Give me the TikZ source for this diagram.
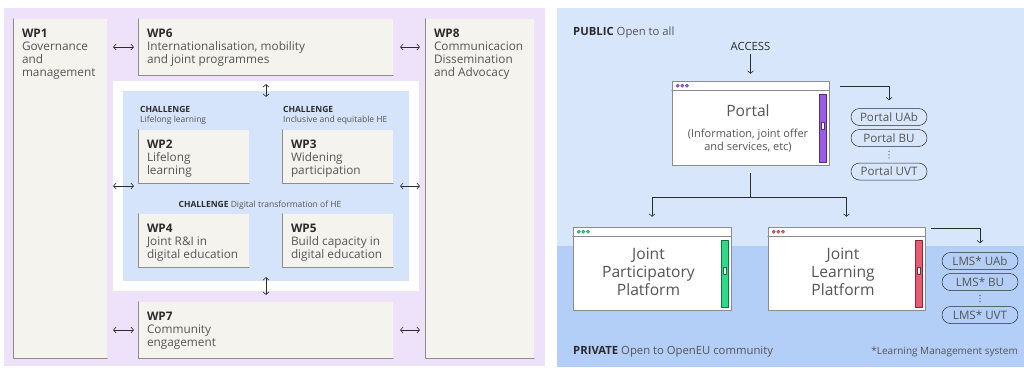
\documentclass[tikz,border=0pt]{standalone}
\usepackage{fontspec}
\setmainfont{Open Sans}
\usetikzlibrary{arrows.meta,calc}

\definecolor{lavender}{HTML}{EEE2FB}
\definecolor{beige}{HTML}{F4F3EE}
\definecolor{challblue}{HTML}{D5E4FB}
\definecolor{pubblue}{HTML}{D7E6FB}
\definecolor{privblue}{HTML}{B3CEF7}
\definecolor{edgegray}{HTML}{8C8C8C}
\definecolor{inkc}{HTML}{2B2B2B}
\definecolor{bodyc}{HTML}{555555}
\definecolor{portalc}{HTML}{9D5CE6}
\definecolor{jppc}{HTML}{2FDB86}
\definecolor{jlpc}{HTML}{EC5A72}

\tikzset{
  panel/.style={draw=none, inner sep=0pt},
  wpbox/.style={panel, fill=beige},
  wptext/.style={anchor=north west, align=left, inner sep=0pt, text=bodyc,
    font=\fontsize{11.8}{13}\selectfont},
  chaltext/.style={anchor=base west, inner sep=0pt, text=bodyc,
    font=\fontsize{8.5}{9}\selectfont},
  conn/.style={draw=inkc, line width=0.6pt},
  window/.style={draw=edgegray, fill=white, line width=0.6pt, inner sep=0pt},
  wintext/.style={align=center, inner sep=0pt, text=bodyc,
    font=\fontsize{15.6}{18}\selectfont},
  pill/.style={draw=inkc, line width=0.5pt, rounded corners=8.5pt, minimum width=76pt,
    minimum height=17pt, inner sep=0pt, text=bodyc, font=\fontsize{11.6}{12}\selectfont},
}

\begin{document}
\begin{tikzpicture}[x=1pt, y=-1pt, line cap=round, line join=round,
  >={Straight Barb[length=2.5pt,width=6pt]}]
\useasboundingbox (0,0) rectangle (1024,367);

% left panel: work packages
\node[panel, fill=lavender, minimum width=541pt, minimum height=358pt] (left) at (274.5,187) {};
\node[panel, fill=white, minimum width=306pt, minimum height=210pt] (frame) at (266,186) {};
\node[panel, fill=challblue, minimum width=286pt, minimum height=190pt] (blue) at (266,186) {};

\node[wpbox, minimum width=93pt, minimum height=339pt] (wp1) at (60.5,188.5) {};
\node[wpbox, minimum width=254pt, minimum height=56pt] (wp6) at (266,47) {};
\node[wpbox, minimum width=108pt, minimum height=339pt] (wp8) at (480,188.5) {};
\node[wpbox, minimum width=110pt, minimum height=53pt] (wp2) at (194,156.5) {};
\node[wpbox, minimum width=110pt, minimum height=53pt] (wp3) at (338,156.5) {};
\node[wpbox, minimum width=110pt, minimum height=53pt] (wp4) at (194,240.5) {};
\node[wpbox, minimum width=110pt, minimum height=53pt] (wp5) at (338,240.5) {};
\node[wpbox, minimum width=254pt, minimum height=56pt] (wp7) at (266,330) {};

\foreach \n in {wp1,wp2,wp3,wp4,wp5,wp6,wp7,wp8}
  \draw[edgegray, line width=0.7pt] (\n.north west) -- (\n.south west) -- (\n.south east);

\node[wptext] (wp1t) at ([shift={(8,10)}]wp1.north west) {\textbf{\color{inkc}WP1}\\Governance\\and\\management};
\node[wptext] (wp6t) at ([shift={(8,10)}]wp6.north west) {\textbf{\color{inkc}WP6}\\Internationalisation, mobility\\and joint programmes};
\node[wptext] (wp8t) at ([shift={(8,10)}]wp8.north west) {\textbf{\color{inkc}WP8}\\Communicacion\\Dissemination\\and Advocacy};
\node[wptext] (wp2t) at ([shift={(8,10)}]wp2.north west) {\textbf{\color{inkc}WP2}\\Lifelong\\learning};
\node[wptext] (wp3t) at ([shift={(8,10)}]wp3.north west) {\textbf{\color{inkc}WP3}\\Widening\\participation};
\node[wptext] (wp4t) at ([shift={(8,10)}]wp4.north west) {\textbf{\color{inkc}WP4}\\Joint R\&I in\\digital education};
\node[wptext] (wp5t) at ([shift={(8,10)}]wp5.north west) {\textbf{\color{inkc}WP5}\\Build capacity in\\digital education};
\node[wptext] (wp7t) at ([shift={(8,10)}]wp7.north west) {\textbf{\color{inkc}WP7}\\Community\\engagement};

\node[chaltext, text=inkc, font=\fontsize{8.5}{9}\selectfont\bfseries] (ch2) at (140,112) {CHALLENGE};
\node[chaltext] (ch2s) at (140,122) {Lifelong learning};
\node[chaltext, text=inkc, font=\fontsize{8.5}{9}\selectfont\bfseries] (ch3) at (283,112) {CHALLENGE};
\node[chaltext] (ch3s) at (283,122) {Inclusive and equitable HE};
\node[chaltext, anchor=base] (ch45) at (260,207) {\textbf{\color{inkc}CHALLENGE} Digital transformation of HE};

\draw[conn, <->, shorten <=6pt, shorten >=5pt] (wp1.east |- wp6.west) -- (wp6.west);
\draw[conn, <->, shorten <=7pt, shorten >=6pt] (wp6.east) -- (wp8.west |- wp6.east);
\draw[conn, <->, shorten <=6pt, shorten >=5pt] (wp1.east |- blue.west) -- (wp2.west |- blue.west);
\draw[conn, <->, shorten <=7pt, shorten >=6pt] (wp3.east |- blue.east) -- (wp8.west |- blue.east);
\draw[conn, <->, shorten <=6pt, shorten >=5pt] (wp1.east |- wp7.west) -- (wp7.west);
\draw[conn, <->, shorten <=7pt, shorten >=6pt] (wp7.east) -- (wp8.west |- wp7.east);
\draw[conn, <->, shorten <=9pt] (wp6.south) -- ([yshift=-6pt]blue.north);
\draw[conn, <->, shorten >=7pt] ([yshift=4pt]blue.south) -- (wp7.north);

% right panel: platforms
\node[panel, fill=pubblue, minimum width=467pt, minimum height=359pt] (public) at (790.5,187.5) {};
\node[panel, fill=privblue, minimum width=467pt, minimum height=121pt] (private) at (790.5,306.5) {};

\node[anchor=base west, inner sep=0pt, text=bodyc, font=\fontsize{11.3}{12}\selectfont] (pubt) at (573,35) {\textbf{\color{inkc}PUBLIC} Open to all};
\node[anchor=base west, inner sep=0pt, text=bodyc, font=\fontsize{11.3}{12}\selectfont] (privt) at (573,354) {\textbf{\color{inkc}PRIVATE} Open to OpenEU community};
\node[anchor=base east, inner sep=0pt, text=bodyc, font=\fontsize{10}{12}\selectfont] (lmsnote) at (1018,354) {*Learning Management system};
\node[anchor=base, inner sep=0pt, text=inkc, font=\fontsize{11.3}{12}\selectfont] (access) at (750.5,50) {ACCESS};

\node[window, minimum width=157pt, minimum height=84pt] (portal) at (750.5,123) {};
\node[window, minimum width=158pt, minimum height=83pt] (jpp) at (652,268.5) {};
\node[window, minimum width=157pt, minimum height=83pt] (jlp) at (846.5,268.5) {};

\foreach \w/\c in {portal/portalc, jpp/jppc, jlp/jlpc} {
  \draw[edgegray, line width=0.6pt] ([yshift=-10pt]\w.north west) -- ([yshift=-10pt]\w.north east);
  \foreach \i in {0,1,2}
    \filldraw[fill=\c, draw=\c!60!black, line width=0.3pt] ([shift={(6+4.6*\i,5)}]\w.north west) circle (1.7pt);
  \filldraw[fill=\c, draw=\c!50!black, line width=0.4pt] ([shift={(-10,13)}]\w.north east) rectangle ([shift={(-3,-3)}]\w.south east);
  \filldraw[fill=white, draw=\c!50!black, line width=0.3pt] ([shift={(-8.3,-3.5)}]$([yshift=-5pt]\w.north east)!0.5!(\w.south east)$) rectangle ++(3.6,7);
}

\node[wintext, font=\fontsize{15.6}{18}\selectfont, anchor=base] (portalt) at (748,116) {Portal};
\node[wintext, font=\fontsize{11}{13}\selectfont, anchor=base] (portals) at (748,150) {(Information, joint offer\\and services, etc)};
\node[wintext, anchor=base] (jppt) at (648.5,295) {Joint\\Participatory\\Platform};
\node[wintext, anchor=base] (jlpt) at (843,295) {Joint\\Learning\\Platform};

\node[pill] (puab) at (889,117) {Portal UAb};
\node[pill] (pbu) at (889,138) {Portal BU};
\node[pill] (puvt) at (889,171.5) {Portal UVT};
\node[pill] (luab) at (980,261) {LMS* UAb};
\node[pill] (lbu) at (980,282) {LMS* BU};
\node[pill] (luvt) at (980,315) {LMS* UVT};

% vertical ellipses between the pills
\foreach \a/\b in {pbu/puvt, lbu/luvt}
  \foreach \t in {0.3,0.5,0.7}
    \fill[bodyc] ($(\a.south)!\t!(\b.north)$) circle (0.7pt);

\draw[conn, ->, shorten <=4pt, shorten >=7pt] (access.south) -- (access.south |- portal.north);
\draw[conn, ->, shorten >=8pt] ([shift={(11,6)}]portal.north east) -| (puab.north);
\coordinate (fork) at ([yshift=-32pt]portal.south);
\draw[conn] ([yshift=-8pt]portal.south) -- (fork);
\draw[conn, ->, shorten >=10pt] (fork) -| (jpp.north);
\draw[conn, ->, shorten >=10pt] (fork) -| (jlp.north);
\draw[conn, ->, shorten >=9pt] ([shift={(6,2)}]jlp.north east) -| (luab.north);
\end{tikzpicture}
\end{document}
